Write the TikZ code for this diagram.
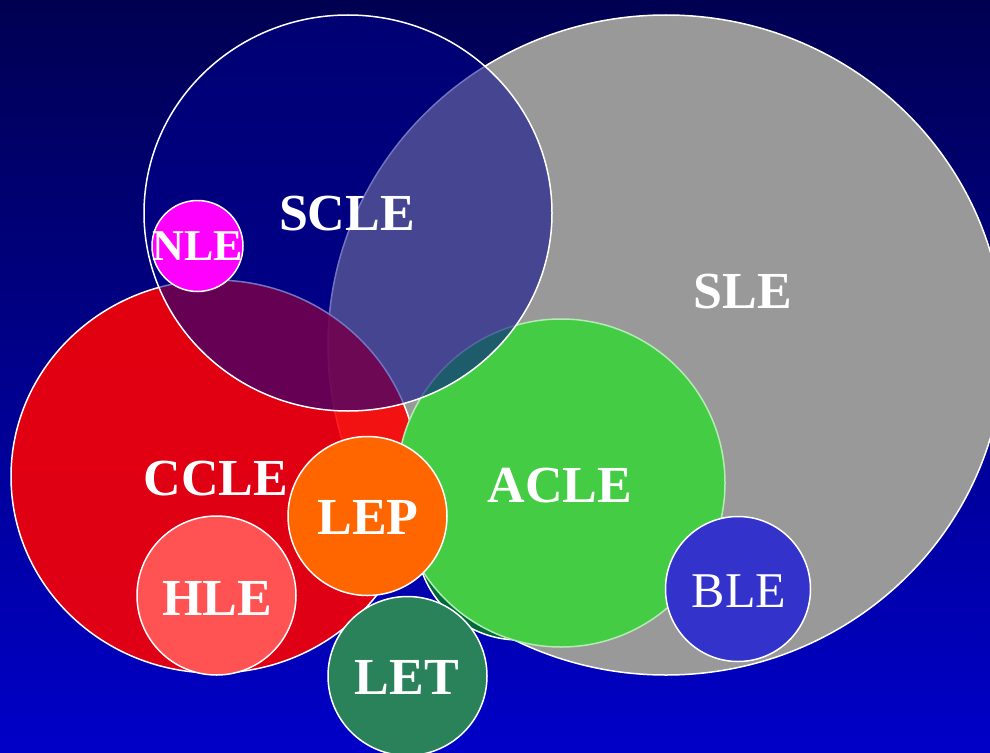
\documentclass[tikz,border=0pt]{standalone}
\usepackage{fontspec}
\setmainfont{Liberation Serif}
\definecolor{bgtop}{RGB}{0,0,82}
\definecolor{bgbot}{RGB}{0,0,200}
\definecolor{slegray}{RGB}{153,153,153}
\definecolor{sclenavy}{RGB}{0,0,140}
\definecolor{cclered}{RGB}{255,0,0}
\definecolor{aclegreen}{RGB}{68,204,68}
\definecolor{darkgr}{RGB}{0,105,60}
\definecolor{leporange}{RGB}{255,102,0}
\definecolor{hlered}{RGB}{255,82,82}
\definecolor{letgreen}{RGB}{42,130,90}
\definecolor{bleblue}{RGB}{51,51,204}
\definecolor{nlemag}{RGB}{255,0,255}
\tikzset{
  setborder/.style={draw=white, line width=1.5pt},
  lab/.style={text=white, font=\fontsize{52}{52}\selectfont\bfseries, inner sep=0pt},
}
\begin{document}
\begin{tikzpicture}[x=1pt,y=-1pt]
\useasboundingbox (0,0) rectangle (990,752);
\shade[top color=bgtop, bottom color=bgbot] (0,0) rectangle (990,752);
% SLE
\fill[slegray] (666,345) ellipse [x radius=338pt, y radius=330pt];
\draw[setborder] (666,345) ellipse [x radius=338pt, y radius=330pt];
% CCLE
\fill[cclered, fill opacity=0.88] (214.5,476.5) ellipse [x radius=203.5pt, y radius=196.5pt];
\draw[setborder] (214.5,476.5) ellipse [x radius=203.5pt, y radius=196.5pt];
% ACLE with dark crescent
\fill[darkgr] (519,537) circle [radius=103pt];
\draw[setborder] (519,537) circle [radius=103pt];
\fill[aclegreen] (561,483) circle [radius=164pt];
\draw[draw=white!60!aclegreen, line width=1.5pt] (561,483) circle [radius=164pt];
% SCLE
\fill[sclenavy, fill opacity=0.55] (348,213) ellipse [x radius=204pt, y radius=198pt];
\draw[setborder] (348,213) ellipse [x radius=204pt, y radius=198pt];
% small circles
\fill[nlemag] (197.5,246) circle [radius=45.5pt];
\draw[setborder] (197.5,246) circle [radius=45.5pt];
\fill[leporange] (367.5,516) circle [radius=79.5pt];
\draw[setborder] (367.5,516) circle [radius=79.5pt];
\fill[hlered] (216.5,595.5) circle [radius=79.5pt];
\draw[setborder] (216.5,595.5) circle [radius=79.5pt];
\fill[letgreen] (407.5,676) circle [radius=79.5pt];
\draw[setborder] (407.5,676) circle [radius=79.5pt];
\fill[bleblue] (738,589) circle [radius=72.5pt];
\draw[setborder] (738,589) circle [radius=72.5pt];
% labels
\node[lab] (scle) at (347,214) {SCLE};
\node[lab, font=\fontsize{44}{44}\selectfont\bfseries] (nle) at (197.5,246) {NLE};
\node[lab] (sle) at (743,292) {SLE};
\node[lab] (ccle) at (216,479) {CCLE};
\node[lab] (lep) at (368,517) {LEP};
\node[lab] (acle) at (560,486) {ACLE};
\node[lab] (hle) at (217,598) {HLE};
\node[lab] (let) at (407,677) {LET};
\node[lab, font=\fontsize{50}{50}\selectfont] (ble) at (739,591) {BLE};
\end{tikzpicture}
\end{document}
